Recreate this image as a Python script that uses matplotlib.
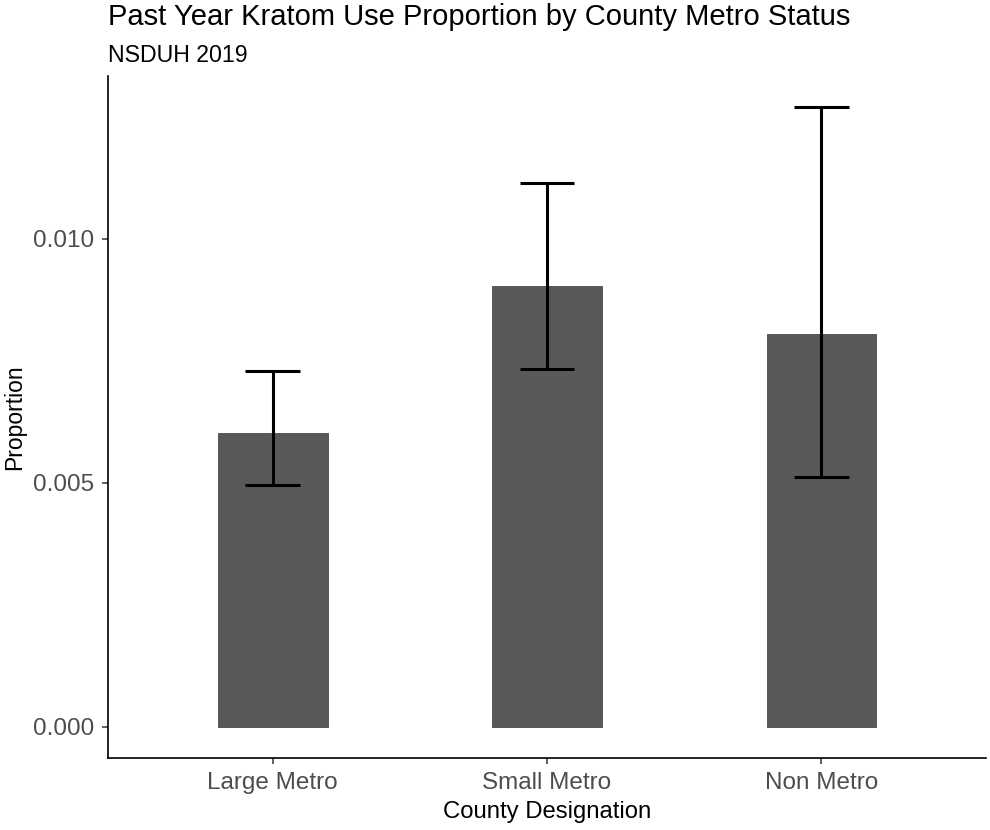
import matplotlib
matplotlib.use("Agg")
import matplotlib.pyplot as plt
import numpy as np

plt.rcParams['font.family'] = ['Liberation Sans', 'DejaVu Sans']

categories = ["Large Metro", "Small Metro", "Non Metro"]
proportion = [0.00601, 0.00903, 0.00805]
ci_low = [0.00495, 0.00733, 0.00511]
ci_high = [0.00729, 0.01114, 0.01269]
y_ticks = [0.000, 0.005, 0.010]
y_tick_labels = ["0.000", "0.005", "0.010"]

W, H = 990, 830
fig = plt.figure(figsize=(W / 100, H / 100), dpi=100)
left, right, top, bottom = 108, 986, 76.5, 757.5
ax = fig.add_axes([left / W, 1 - bottom / H, (right - left) / W, (bottom - top) / H])

x = np.arange(1, len(categories) + 1)
ax.bar(x, proportion, width=0.4, color="#595959", edgecolor="#4a4a4a", linewidth=0.6, zorder=2)
for xi, lo, hi in zip(x, ci_low, ci_high):
    ax.plot([xi, xi], [lo, hi], color="black", lw=2.2, solid_capstyle="butt", zorder=3)
    ax.plot([xi - 0.1, xi + 0.1], [lo, lo], color="black", lw=2.2, solid_capstyle="butt", zorder=3)
    ax.plot([xi - 0.1, xi + 0.1], [hi, hi], color="black", lw=2.2, solid_capstyle="butt", zorder=3)

ymax = max(ci_high)
ax.set_xlim(0.4, 3.6)
ax.set_ylim(-0.05 * ymax, 1.05 * ymax)
ax.set_xticks(x)
ax.set_xticklabels(categories)
ax.set_yticks(y_ticks)
ax.set_yticklabels(y_tick_labels)

for s in ["top", "right"]:
    ax.spines[s].set_visible(False)
for s in ["left", "bottom"]:
    ax.spines[s].set_linewidth(1.2)
    ax.spines[s].set_color("black")

ax.tick_params(axis="both", length=4.5, width=1.1, color="#333333", labelsize=17.5,
               labelcolor="#4D4D4D")
ax.tick_params(axis="y", pad=5.5)
ax.tick_params(axis="x", pad=6)

ax.set_xlabel("County Designation", fontsize=17.2, color="black", labelpad=5)
ax.set_ylabel("Proportion", fontsize=16.5, color="black", labelpad=5)

fig.text(left / W, 1 - 25 / H, "Past Year Kratom Use Proportion by County Metro Status",
         fontsize=21, color="black", ha="left", va="baseline")
fig.text(left / W, 1 - 62 / H, "NSDUH 2019", fontsize=16.7, color="black",
         ha="left", va="baseline")

fig.savefig("out.png", dpi=100, facecolor="white")
